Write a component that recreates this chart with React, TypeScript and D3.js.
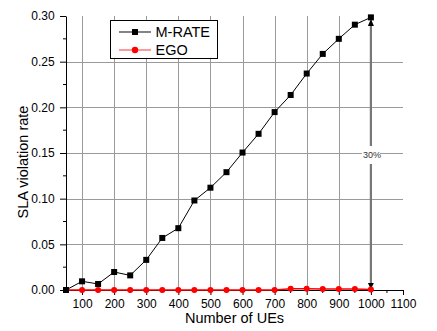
import { useEffect, useRef } from 'react';
import * as d3 from 'd3';

// Number of UEs (x)
const ues = [50, 100, 150, 200, 250, 300, 350, 400, 450, 500, 550, 600, 650, 700, 750, 800, 850, 900, 950, 1000];
const mrate = [0.0, 0.0095, 0.0066, 0.0197, 0.016, 0.033, 0.057, 0.0677, 0.098, 0.112, 0.129, 0.1505, 0.171, 0.1948, 0.2135, 0.237, 0.2585, 0.275, 0.2905, 0.2985];
const ego = [0, 0, 0, 0, 0, 0, 0, 0, 0, 0, 0, 0, 0, 0, 0.0015, 0.0015, 0.0012, 0.0012, 0.001, 0.0006];
const xTicks = [100, 200, 300, 400, 500, 600, 700, 800, 900, 1000, 1100];
const yTicks = [0, 0.05, 0.1, 0.15, 0.2, 0.25, 0.3];
const arrowLabel = '30%';

export default function App() {
  const svgRef = useRef<SVGSVGElement>(null);

  useEffect(() => {
    if (!svgRef.current) return;
    const width = 437;
    const height = 331;
    const font = 'Liberation Sans, Arial, sans-serif';

    const svg = d3.select(svgRef.current);
    svg.selectAll('*').remove();
    svg.attr('width', width).attr('height', height);

    svg.append('rect').attr('width', width).attr('height', height).attr('fill', '#fff');

    const x = d3.scaleLinear().domain([50, 1100]).range([66, 403]);
    const y = d3.scaleLinear().domain([0, 0.3]).range([290, 16]);

    // Grid
    const grid = svg.append('g').attr('stroke', '#9a9a9a').attr('stroke-width', 1);
    grid.selectAll('line.v')
      .data(xTicks.filter((t) => t < 1100))
      .enter()
      .append('line')
      .attr('x1', (d) => Math.round(x(d)) + 0.5)
      .attr('x2', (d) => Math.round(x(d)) + 0.5)
      .attr('y1', y(0.3))
      .attr('y2', y(0));
    grid.selectAll('line.h')
      .data(yTicks.filter((t) => t > 0 && t < 0.3))
      .enter()
      .append('line')
      .attr('x1', x(50))
      .attr('x2', x(1100))
      .attr('y1', (d) => Math.round(y(d)) + 0.5)
      .attr('y2', (d) => Math.round(y(d)) + 0.5);

    // X axis
    const xAxis = svg.append('g').attr('transform', `translate(0,${y(0)})`);
    xAxis.call(
      d3.axisBottom(x).tickValues(xTicks).tickSize(5).tickSizeOuter(0).tickFormat(d3.format('d'))
    );
    xAxis.append('g').selectAll('line')
      .data(d3.range(150, 1100, 100))
      .enter()
      .append('line')
      .attr('x1', (d) => x(d))
      .attr('x2', (d) => x(d))
      .attr('y2', 3)
      .attr('stroke', '#000');
    xAxis.selectAll('text').attr('font-size', 12).attr('font-family', font).attr('dy', '0.85em');
    xAxis.select('.domain').attr('stroke', '#000');

    // Y axis
    const yAxis = svg.append('g').attr('transform', `translate(${x(50)},0)`);
    yAxis.call(
      d3.axisLeft(y).tickValues(yTicks).tickSize(6).tickSizeOuter(0).tickFormat(d3.format('.2f'))
    );
    yAxis.append('g').selectAll('line')
      .data(d3.range(0.025, 0.3, 0.05))
      .enter()
      .append('line')
      .attr('y1', (d) => y(d))
      .attr('y2', (d) => y(d))
      .attr('x2', -3)
      .attr('stroke', '#000');
    yAxis.selectAll('text').attr('font-size', 12).attr('font-family', font).attr('dx', '-0.2em');

    // Axis labels
    svg.append('text')
      .attr('x', (x(50) + x(1100)) / 2)
      .attr('y', 323)
      .attr('text-anchor', 'middle')
      .attr('font-size', 14.5)
      .attr('font-family', font)
      .text('Number of UEs');
    svg.append('text')
      .attr('transform', `translate(28,${162}) rotate(-90)`)
      .attr('text-anchor', 'middle')
      .attr('font-size', 14.5)
      .attr('font-family', font)
      .text('SLA violation rate');

    // Double-headed arrow at x=1000
    const ax = x(1000);
    svg.append('line')
      .attr('x1', ax).attr('x2', ax)
      .attr('y1', y(0.3) + 6).attr('y2', y(0) - 4)
      .attr('stroke', '#777').attr('stroke-width', 2.2);
    svg.append('path')
      .attr('d', `M${ax - 3},${y(0.3) + 10} L${ax},${y(0.3) + 3} L${ax + 3},${y(0.3) + 10} Z`)
      .attr('fill', '#000');
    svg.append('path')
      .attr('d', `M${ax - 3},${y(0) - 7} L${ax},${y(0) - 1} L${ax + 3},${y(0) - 7} Z`)
      .attr('fill', '#000');
    svg.append('rect')
      .attr('x', ax - 9).attr('y', 146).attr('width', 18).attr('height', 18)
      .attr('fill', '#fff');
    svg.append('text')
      .attr('x', ax + 1).attr('y', 157.5)
      .attr('text-anchor', 'middle')
      .attr('font-size', 9)
      .attr('font-family', font)
      .attr('fill', '#333')
      .text(arrowLabel);

    const idx = d3.range(ues.length);
    const line = (vals: number[]) =>
      d3.line<number>().x((i) => x(ues[i])).y((i) => y(vals[i]))(idx);

    // EGO
    svg.append('path').attr('d', line(ego)).attr('fill', 'none').attr('stroke', '#ff0000').attr('stroke-width', 1.5);
    svg.append('g').selectAll('circle')
      .data(idx)
      .enter()
      .append('circle')
      .attr('cx', (i) => x(ues[i]))
      .attr('cy', (i) => y(ego[i]))
      .attr('r', 3)
      .attr('fill', '#ff0000');

    // M-RATE
    svg.append('path').attr('d', line(mrate)).attr('fill', 'none').attr('stroke', '#000').attr('stroke-width', 1);
    svg.append('g').selectAll('rect')
      .data(idx)
      .enter()
      .append('rect')
      .attr('x', (i) => x(ues[i]) - 3)
      .attr('y', (i) => y(mrate[i]) - 3)
      .attr('width', 6)
      .attr('height', 6)
      .attr('fill', '#000');

    // Legend
    const lg = svg.append('g');
    lg.append('rect')
      .attr('x', 110.5).attr('y', 20.5).attr('width', 107).attr('height', 38)
      .attr('fill', '#fff').attr('stroke', '#000');
    const items = [
      { name: 'M-RATE', color: '#000', shape: 'square', ly: 32 },
      { name: 'EGO', color: '#ff0000', shape: 'circle', ly: 50 },
    ];
    items.forEach((it) => {
      lg.append('line')
        .attr('x1', 119).attr('x2', 151).attr('y1', it.ly).attr('y2', it.ly)
        .attr('stroke', it.color === '#000' ? '#333' : '#ff5555').attr('stroke-width', 1.2);
      if (it.shape === 'square') {
        lg.append('rect').attr('x', 132).attr('y', it.ly - 3).attr('width', 6).attr('height', 6).attr('fill', it.color);
      } else {
        lg.append('circle').attr('cx', 135).attr('cy', it.ly).attr('r', 3.2).attr('fill', it.color);
      }
      lg.append('text')
        .attr('x', 155.5).attr('y', it.ly + 5)
        .attr('font-size', 14.5)
        .attr('font-family', font)
        .text(it.name);
    });
  }, []);

  return (
    <div style={{ position: 'absolute', left: 0, top: 0 }}>
      <svg ref={svgRef} style={{ display: 'block' }} />
    </div>
  );
}
